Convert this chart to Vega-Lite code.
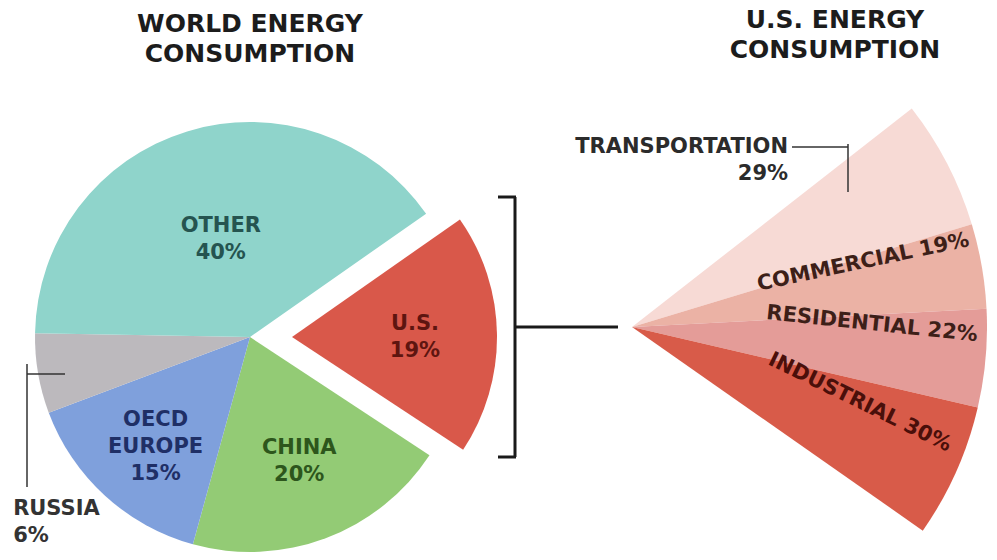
{
  "$schema": "https://vega.github.io/schema/vega-lite/v6.json",
  "background": "white",
  "padding": {"left": 5, "top": 8, "right": 0, "bottom": 0},
  "spacing": 0,
  "bounds": "flush",
  "resolve": {"scale": {"color": "independent", "fill": "independent", "theta": "independent", "opacity": "independent", "angle": "independent"}},
  "config": {
    "view": {"stroke": null},
    "title": {"font": "DejaVu Sans", "fontSize": 25, "fontWeight": "bold", "color": "#1c1c1c", "lineHeight": 30, "anchor": "middle", "offset": 45},
    "text": {"font": "DejaVu Sans", "fontWeight": "bold", "fontSize": 21, "lineBreak": "\n", "lineHeight": 27}
  },
  "hconcat": [
    {
      "width": 490,
      "height": 450,
      "title": {"text": ["WORLD ENERGY", "CONSUMPTION"]},
      "layer": [
        {
          "data": {"values": [
            {"region": "U.S.", "pct": 19, "label": "U.S.\n19%"},
            {"region": "China", "pct": 20, "label": "CHINA\n20%"},
            {"region": "OECD Europe", "pct": 15, "label": "OECD\nEUROPE\n15%"},
            {"region": "Russia", "pct": 6, "label": "RUSSIA\n6%"},
            {"region": "Other", "pct": 40, "label": "OTHER\n40%"}
          ]},
          "transform": [{"window": [{"op": "row_number", "as": "idx"}]}],
          "encoding": {
            "theta": {"field": "pct", "type": "quantitative", "stack": true, "scale": {"domain": [0, 100], "range": [0.96, 7.24319]}},
            "order": {"field": "idx", "type": "quantitative"},
            "detail": {"field": "region", "type": "nominal"}
          },
          "layer": [
            {
              "mark": {"type": "arc", "radius": 215},
              "encoding": {
                "color": {"field": "region", "type": "nominal", "legend": null, "scale": {"domain": ["U.S.", "China", "OECD Europe", "Russia", "Other"], "range": ["#d9584a", "#93cb75", "#7fa0dc", "#bcb9bd", "#8fd4cb"]}},
                "opacity": {"condition": {"test": "datum.region === 'U.S.'", "value": 0}, "value": 1}
              }
            },
            {
              "mark": {"type": "arc", "radius": 205, "xOffset": 42},
              "encoding": {
                "color": {"field": "region", "type": "nominal", "legend": null},
                "opacity": {"condition": {"test": "datum.region === 'U.S.'", "value": 1}, "value": 0}
              }
            },
            {
              "mark": {"type": "text", "radius": 100, "dy": -15},
              "encoding": {
                "text": {"field": "label"},
                "fill": {"field": "region", "type": "nominal", "legend": null, "scale": {"domain": ["U.S.", "China", "OECD Europe", "Russia", "Other"], "range": ["#5e1510", "#2d561c", "#1f2f66", "#333333", "#255450"]}},
                "opacity": {"condition": {"test": "datum.region === 'Other'", "value": 1}, "value": 0}
              }
            },
            {
              "mark": {"type": "text", "radius": 140, "dy": -20},
              "encoding": {
                "text": {"field": "label"},
                "fill": {"field": "region", "type": "nominal", "legend": null},
                "opacity": {"condition": {"test": "datum.region === 'China' || datum.region === 'OECD Europe'", "value": 1}, "value": 0}
              }
            },
            {
              "mark": {"type": "text", "radius": 123, "xOffset": 42, "dy": -11},
              "encoding": {
                "text": {"field": "label"},
                "fill": {"field": "region", "type": "nominal", "legend": null},
                "opacity": {"condition": {"test": "datum.region === 'U.S.'", "value": 1}, "value": 0}
              }
            },
            {
              "mark": {"type": "text", "radius": 215, "dx": -25, "dy": 135, "align": "left"},
              "encoding": {
                "text": {"field": "label"},
                "fill": {"field": "region", "type": "nominal", "legend": null},
                "opacity": {"condition": {"test": "datum.region === 'Russia'", "value": 1}, "value": 0}
              }
            }
          ]
        },
        {
          "data": {"values": [{}]},
          "mark": {"type": "rule", "strokeWidth": 1.5, "color": "#333333"},
          "encoding": {"x": {"value": 22}, "x2": {"value": 60}, "y": {"value": 262}}
        },
        {
          "data": {"values": [{}]},
          "mark": {"type": "rule", "strokeWidth": 1.5, "color": "#333333"},
          "encoding": {"x": {"value": 22}, "y": {"value": 252}, "y2": {"value": 375}}
        }
      ]
    },
    {
      "width": 274,
      "height": 430,
      "title": {"text": ["U.S. ENERGY", "CONSUMPTION"], "dx": 203},
      "layer": [
        {
          "data": {"values": [
            {"sector": "TRANSPORTATION", "pct": 29, "label": "TRANSPORTATION\n29%"},
            {"sector": "COMMERCIAL", "pct": 19, "label": "COMMERCIAL 19%"},
            {"sector": "RESIDENTIAL", "pct": 22, "label": "RESIDENTIAL 22%"},
            {"sector": "INDUSTRIAL", "pct": 30, "label": "INDUSTRIAL  30%"}
          ]},
          "transform": [{"window": [{"op": "row_number", "as": "idx"}]}],
          "encoding": {
            "theta": {"field": "pct", "type": "quantitative", "stack": true, "scale": {"domain": [0, 100], "range": [0.9076, 2.1817]}},
            "order": {"field": "idx", "type": "quantitative"},
            "detail": {"field": "sector", "type": "nominal"}
          },
          "layer": [
            {
              "mark": {"type": "arc", "radius": 355},
              "encoding": {
                "color": {"field": "sector", "type": "nominal", "legend": null, "scale": {"domain": ["TRANSPORTATION", "COMMERCIAL", "RESIDENTIAL", "INDUSTRIAL"], "range": ["#f7dad5", "#ebb2a5", "#e49c98", "#d85b49"]}}
              }
            },
            {
              "mark": {"type": "text", "radius": 240, "thetaOffset": -0.1},
              "encoding": {
                "text": {"field": "label"},
                "fill": {"condition": {"test": "datum.sector === 'INDUSTRIAL'", "value": "#4a0f0a"}, "value": "#3d1f18"},
                "angle": {"condition": [{"test": "datum.sector === 'COMMERCIAL'", "value": 348}, {"test": "datum.sector === 'RESIDENTIAL'", "value": 6}], "value": 26},
                "opacity": {"condition": {"test": "datum.sector === 'TRANSPORTATION'", "value": 0}, "value": 1}
              }
            },
            {
              "mark": {"type": "text", "radius": 240, "dx": -57, "dy": -70, "align": "right"},
              "encoding": {
                "text": {"field": "label"},
                "fill": {"value": "#2b2b2b"},
                "opacity": {"condition": {"test": "datum.sector === 'TRANSPORTATION'", "value": 1}, "value": 0}
              }
            }
          ]
        },
        {
          "data": {"values": [{}]},
          "mark": {"type": "rule", "strokeWidth": 3, "color": "#1a1a1a"},
          "encoding": {"x": {"value": 20}, "y": {"value": 85}, "y2": {"value": 345}}
        },
        {
          "data": {"values": [{}]},
          "mark": {"type": "rule", "strokeWidth": 3, "color": "#1a1a1a"},
          "encoding": {"x": {"value": 3}, "x2": {"value": 21}, "y": {"value": 85}}
        },
        {
          "data": {"values": [{}]},
          "mark": {"type": "rule", "strokeWidth": 3, "color": "#1a1a1a"},
          "encoding": {"x": {"value": 3}, "x2": {"value": 21}, "y": {"value": 345}}
        },
        {
          "data": {"values": [{}]},
          "mark": {"type": "rule", "strokeWidth": 3, "color": "#1a1a1a"},
          "encoding": {"x": {"value": 20}, "x2": {"value": 123}, "y": {"value": 215}}
        },
        {
          "data": {"values": [{}]},
          "mark": {"type": "rule", "strokeWidth": 1.5, "color": "#333333"},
          "encoding": {"x": {"value": 297}, "x2": {"value": 353}, "y": {"value": 35}}
        },
        {
          "data": {"values": [{}]},
          "mark": {"type": "rule", "strokeWidth": 1.5, "color": "#333333"},
          "encoding": {"x": {"value": 353}, "y": {"value": 32}, "y2": {"value": 80}}
        }
      ]
    }
  ]
}
